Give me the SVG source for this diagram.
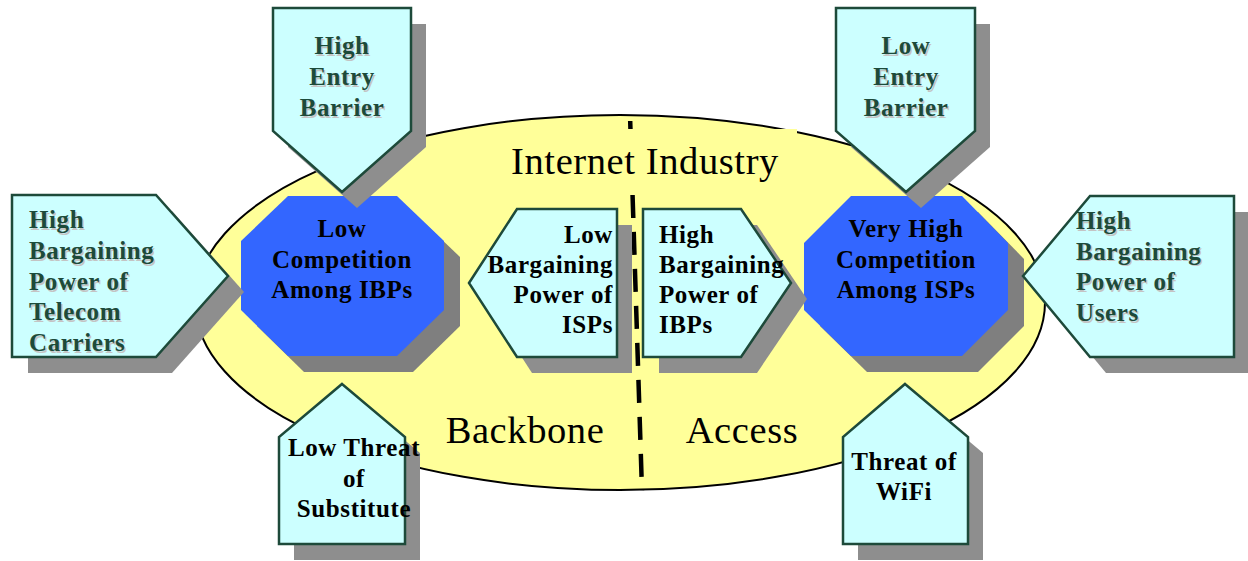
<svg xmlns="http://www.w3.org/2000/svg" width="1248" height="561" viewBox="0 0 1248 561">
  <style>
    .arrow { fill: #ccffff; stroke: #1d4a3a; stroke-width: 2.5; stroke-linejoin: miter; }
    .ashadow { fill: #8e8e8e; }
    .oct { fill: #3366ff; }
    .oshadow { fill: #7f7f7f; }
    .lbl { font-family: "Liberation Serif", "Times New Roman", serif; font-weight: bold; font-size: 25px; letter-spacing: 0.6px; }
    .dark { fill: #000000; }
    .green { fill: #1d4a3a; }
    .gshade { fill: #c4c4c4; }
    .title { font-family: "Liberation Serif", "Times New Roman", serif; font-size: 38.5px; letter-spacing: 0.6px; fill: #000000; }
    .mid { text-anchor: middle; }
    .end { text-anchor: end; }
  </style>

  <!-- industry ellipse -->
  <g id="industry">
    <ellipse cx="620" cy="302.5" rx="425" ry="187.5" fill="#ffff99" stroke="#000000" stroke-width="2"/>
    <text class="title mid" x="525" y="443">Backbone</text>
    <text class="title mid" x="742" y="443">Access</text>
  </g>

  <!-- backbone / access divider -->
  <g id="connectors">
    <line x1="630" y1="115" x2="642" y2="491" stroke="#000000" stroke-width="4.5" stroke-dasharray="23 14" stroke-dashoffset="31"/>
  </g>

  <!-- title on its own filled box, which hides the divider behind it -->
  <g id="industry-title">
    <rect x="495" y="129" width="302" height="64" fill="#ffff99"/>
    <text class="title mid" x="645" y="174">Internet Industry</text>
  </g>

  <!-- rivalry octagons -->
  <g id="backbone-competition">
    <polygon class="oshadow" transform="translate(16,16)" points="288,196 397,196 444,241 444,310 397,356 288,356 241,310 241,241"/>
    <polygon class="oct" points="288,196 397,196 444,241 444,310 397,356 288,356 241,310 241,241"/>
    <text class="lbl dark mid" x="342" y="237">Low</text>
    <text class="lbl dark mid" x="342" y="268">Competition</text>
    <text class="lbl dark mid" x="342" y="298">Among IBPs</text>
  </g>

  <g id="access-competition">
    <polygon class="oshadow" transform="translate(16,16)" points="851,196 962,196 1008,243 1008,310 962,356 851,356 804,310 804,243"/>
    <polygon class="oct" points="851,196 962,196 1008,243 1008,310 962,356 851,356 804,310 804,243"/>
    <text class="lbl dark mid" x="906" y="237">Very High</text>
    <text class="lbl dark mid" x="906" y="268">Competition</text>
    <text class="lbl dark mid" x="906" y="298">Among ISPs</text>
  </g>

  <!-- entry barriers -->
  <g id="high-entry-barrier">
    <polygon class="ashadow" transform="translate(15,16)" points="273,8 411,8 411,131 342,192 273,131"/>
    <polygon class="arrow" points="273,8 411,8 411,131 342,192 273,131"/>
    <g class="lbl mid">
      <text class="gshade" x="343.5" y="55.5">High</text>
      <text class="gshade" x="343.5" y="86.5">Entry</text>
      <text class="gshade" x="343.5" y="117.5">Barrier</text>
      <text class="green" x="342" y="54">High</text>
      <text class="green" x="342" y="85">Entry</text>
      <text class="green" x="342" y="116">Barrier</text>
    </g>
  </g>

  <g id="low-entry-barrier">
    <polygon class="ashadow" transform="translate(15,16)" points="836,8 975,8 975,131 906,192 836,131"/>
    <polygon class="arrow" points="836,8 975,8 975,131 906,192 836,131"/>
    <g class="lbl mid">
      <text class="gshade" x="907.5" y="55.5">Low</text>
      <text class="gshade" x="907.5" y="86.5">Entry</text>
      <text class="gshade" x="907.5" y="117.5">Barrier</text>
      <text class="green" x="906" y="54">Low</text>
      <text class="green" x="906" y="85">Entry</text>
      <text class="green" x="906" y="116">Barrier</text>
    </g>
  </g>

  <!-- supplier and buyer power -->
  <g id="telecom-carriers">
    <polygon class="ashadow" transform="translate(16,16)" points="12,195 156,195 228,276 156,357 12,357"/>
    <polygon class="arrow" points="12,195 156,195 228,276 156,357 12,357"/>
    <g class="lbl">
      <text class="gshade" x="30.5" y="229.5">High</text>
      <text class="gshade" x="30.5" y="260.5">Bargaining</text>
      <text class="gshade" x="30.5" y="291.5">Power of</text>
      <text class="gshade" x="30.5" y="321.5">Telecom</text>
      <text class="gshade" x="30.5" y="352.5">Carriers</text>
      <text class="green" x="29" y="228">High</text>
      <text class="green" x="29" y="259">Bargaining</text>
      <text class="green" x="29" y="290">Power of</text>
      <text class="green" x="29" y="320">Telecom</text>
      <text class="green" x="29" y="351">Carriers</text>
    </g>
  </g>

  <g id="users">
    <polygon class="ashadow" transform="translate(16,16)" points="1023,276 1090,196 1234,196 1234,357 1090,357"/>
    <polygon class="arrow" points="1023,276 1090,196 1234,196 1234,357 1090,357"/>
    <g class="lbl">
      <text class="gshade" x="1077.5" y="230.5">High</text>
      <text class="gshade" x="1077.5" y="261">Bargaining</text>
      <text class="gshade" x="1077.5" y="291.5">Power of</text>
      <text class="gshade" x="1077.5" y="322.5">Users</text>
      <text class="green" x="1076" y="229">High</text>
      <text class="green" x="1076" y="259.5">Bargaining</text>
      <text class="green" x="1076" y="290">Power of</text>
      <text class="green" x="1076" y="321">Users</text>
    </g>
  </g>

  <g id="isp-power">
    <polygon class="ashadow" transform="translate(15,16)" points="469,283 517,209 617,209 617,357 517,357"/>
    <polygon class="arrow" points="469,283 517,209 617,209 617,357 517,357"/>
    <text class="lbl dark end" x="613" y="243">Low</text>
    <text class="lbl dark end" x="613" y="273">Bargaining</text>
    <text class="lbl dark end" x="613" y="303">Power of</text>
    <text class="lbl dark end" x="613" y="333">ISPs</text>
  </g>

  <g id="ibp-power">
    <polygon class="ashadow" transform="translate(16,16)" points="643,209 741,209 791,283 741,357 643,357"/>
    <polygon class="arrow" points="643,209 741,209 791,283 741,357 643,357"/>
    <text class="lbl dark" x="659" y="243">High</text>
    <text class="lbl dark" x="659" y="273">Bargaining</text>
    <text class="lbl dark" x="659" y="303">Power of</text>
    <text class="lbl dark" x="659" y="333">IBPs</text>
  </g>

  <!-- substitutes -->
  <g id="substitute">
    <polygon class="ashadow" transform="translate(15,16)" points="342,384 405,437 405,544 279,544 279,437"/>
    <polygon class="arrow" points="342,384 405,437 405,544 279,544 279,437"/>
    <text class="lbl dark mid" x="354" y="456">Low Threat</text>
    <text class="lbl dark mid" x="354" y="487">of</text>
    <text class="lbl dark mid" x="354" y="517">Substitute</text>
  </g>

  <g id="wifi">
    <polygon class="ashadow" transform="translate(15,16)" points="905,384 968,437 968,544 843,544 843,437"/>
    <polygon class="arrow" points="905,384 968,437 968,544 843,544 843,437"/>
    <text class="lbl dark mid" x="904" y="470">Threat of</text>
    <text class="lbl dark mid" x="904" y="500">WiFi</text>
  </g>
</svg>
